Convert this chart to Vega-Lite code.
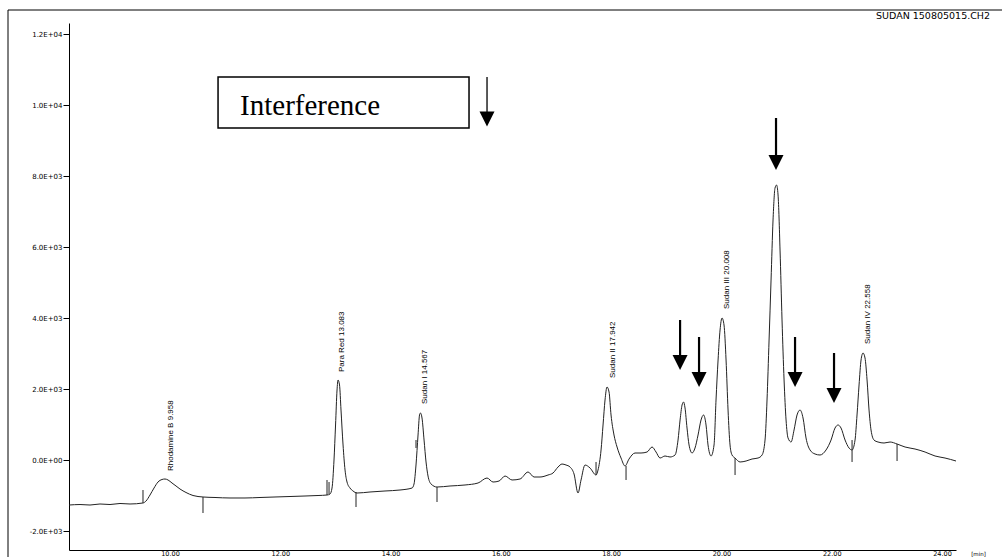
{
  "$schema": "https://vega.github.io/schema/vega-lite/v6.json",
  "width": 887,
  "height": 527,
  "autosize": {"type": "none"},
  "padding": {"left": 69, "top": 23, "right": 46, "bottom": 7},
  "background": "white",
  "config": {"view": {"stroke": null}},
  "datasets": {
    "trace": [
      {"t": 8.168, "v": -1268}, {"t": 8.368, "v": -1254}, {"t": 8.549, "v": -1268}, {"t": 8.730, "v": -1239},
      {"t": 8.912, "v": -1254}, {"t": 9.093, "v": -1225}, {"t": 9.275, "v": -1239}, {"t": 9.510, "v": -1211},
      {"t": 9.565, "v": -1155}, {"t": 9.637, "v": -986}, {"t": 9.710, "v": -789}, {"t": 9.782, "v": -620},
      {"t": 9.855, "v": -549}, {"t": 9.909, "v": -535}, {"t": 9.964, "v": -563}, {"t": 10.036, "v": -648},
      {"t": 10.109, "v": -732}, {"t": 10.181, "v": -817}, {"t": 10.290, "v": -915}, {"t": 10.417, "v": -1000},
      {"t": 10.598, "v": -1042}, {"t": 10.816, "v": -1056}, {"t": 11.088, "v": -1070}, {"t": 11.360, "v": -1070},
      {"t": 11.632, "v": -1056}, {"t": 11.904, "v": -1042}, {"t": 12.176, "v": -1028}, {"t": 12.448, "v": -1014},
      {"t": 12.684, "v": -1000}, {"t": 12.847, "v": -986}, {"t": 12.902, "v": -958}, {"t": 12.938, "v": -789},
      {"t": 12.974, "v": 0}, {"t": 13.002, "v": 986}, {"t": 13.029, "v": 1972}, {"t": 13.047, "v": 2254},
      {"t": 13.074, "v": 2113}, {"t": 13.101, "v": 1408}, {"t": 13.138, "v": 423}, {"t": 13.174, "v": -282},
      {"t": 13.210, "v": -620}, {"t": 13.264, "v": -789}, {"t": 13.319, "v": -873}, {"t": 13.391, "v": -930},
      {"t": 13.627, "v": -901}, {"t": 13.899, "v": -873}, {"t": 14.171, "v": -845}, {"t": 14.389, "v": -789},
      {"t": 14.425, "v": -676}, {"t": 14.461, "v": -141}, {"t": 14.498, "v": 704}, {"t": 14.525, "v": 1268},
      {"t": 14.543, "v": 1324}, {"t": 14.570, "v": 1183}, {"t": 14.607, "v": 563}, {"t": 14.643, "v": -56},
      {"t": 14.679, "v": -451}, {"t": 14.734, "v": -676}, {"t": 14.842, "v": -761}, {"t": 15.078, "v": -732},
      {"t": 15.350, "v": -704}, {"t": 15.586, "v": -648}, {"t": 15.749, "v": -507}, {"t": 15.858, "v": -620},
      {"t": 15.967, "v": -592}, {"t": 16.076, "v": -451}, {"t": 16.203, "v": -563}, {"t": 16.348, "v": -535},
      {"t": 16.493, "v": -338}, {"t": 16.602, "v": -479}, {"t": 16.710, "v": -479}, {"t": 16.855, "v": -423},
      {"t": 16.946, "v": -366}, {"t": 17.037, "v": -197}, {"t": 17.109, "v": -113}, {"t": 17.182, "v": -141},
      {"t": 17.254, "v": -197}, {"t": 17.327, "v": -394}, {"t": 17.399, "v": -930}, {"t": 17.454, "v": -563},
      {"t": 17.526, "v": -141}, {"t": 17.617, "v": -225}, {"t": 17.726, "v": -423}, {"t": 17.762, "v": -282},
      {"t": 17.817, "v": 282}, {"t": 17.853, "v": 986}, {"t": 17.889, "v": 1690}, {"t": 17.925, "v": 2056},
      {"t": 17.962, "v": 1915}, {"t": 17.998, "v": 1268}, {"t": 18.052, "v": 704}, {"t": 18.107, "v": 366},
      {"t": 18.179, "v": 56}, {"t": 18.252, "v": -169}, {"t": 18.324, "v": 28}, {"t": 18.433, "v": 197},
      {"t": 18.542, "v": 197}, {"t": 18.651, "v": 225}, {"t": 18.742, "v": 366}, {"t": 18.814, "v": 225},
      {"t": 18.887, "v": 56}, {"t": 18.977, "v": 113}, {"t": 19.068, "v": 85}, {"t": 19.159, "v": 141},
      {"t": 19.213, "v": 563}, {"t": 19.250, "v": 1127}, {"t": 19.286, "v": 1549}, {"t": 19.313, "v": 1634},
      {"t": 19.340, "v": 1465}, {"t": 19.376, "v": 901}, {"t": 19.413, "v": 423}, {"t": 19.467, "v": 197},
      {"t": 19.521, "v": 338}, {"t": 19.576, "v": 704}, {"t": 19.630, "v": 1127}, {"t": 19.676, "v": 1268},
      {"t": 19.721, "v": 986}, {"t": 19.757, "v": 423}, {"t": 19.812, "v": 113}, {"t": 19.866, "v": 423},
      {"t": 19.902, "v": 1690}, {"t": 19.939, "v": 2817}, {"t": 19.975, "v": 3662}, {"t": 20.011, "v": 4000},
      {"t": 20.047, "v": 3803}, {"t": 20.084, "v": 2817}, {"t": 20.120, "v": 1408}, {"t": 20.156, "v": 423},
      {"t": 20.192, "v": 141}, {"t": 20.247, "v": 56}, {"t": 20.338, "v": -56}, {"t": 20.447, "v": -28},
      {"t": 20.555, "v": 28}, {"t": 20.664, "v": 56}, {"t": 20.737, "v": 141}, {"t": 20.791, "v": 563},
      {"t": 20.827, "v": 1690}, {"t": 20.864, "v": 3380}, {"t": 20.900, "v": 5070}, {"t": 20.936, "v": 6761},
      {"t": 20.972, "v": 7662}, {"t": 21.000, "v": 7746}, {"t": 21.027, "v": 7465}, {"t": 21.063, "v": 5915},
      {"t": 21.099, "v": 3944}, {"t": 21.136, "v": 2254}, {"t": 21.172, "v": 1127}, {"t": 21.208, "v": 620},
      {"t": 21.263, "v": 507}, {"t": 21.317, "v": 845}, {"t": 21.371, "v": 1268}, {"t": 21.426, "v": 1408},
      {"t": 21.480, "v": 1183}, {"t": 21.534, "v": 620}, {"t": 21.607, "v": 282}, {"t": 21.698, "v": 169},
      {"t": 21.788, "v": 141}, {"t": 21.897, "v": 282}, {"t": 21.988, "v": 563}, {"t": 22.060, "v": 901},
      {"t": 22.115, "v": 986}, {"t": 22.169, "v": 901}, {"t": 22.242, "v": 563}, {"t": 22.314, "v": 338},
      {"t": 22.369, "v": 282}, {"t": 22.423, "v": 563}, {"t": 22.459, "v": 1268}, {"t": 22.496, "v": 2113},
      {"t": 22.532, "v": 2817}, {"t": 22.568, "v": 3014}, {"t": 22.604, "v": 2873}, {"t": 22.641, "v": 2254},
      {"t": 22.677, "v": 1408}, {"t": 22.713, "v": 845}, {"t": 22.767, "v": 563}, {"t": 22.840, "v": 507},
      {"t": 22.949, "v": 479}, {"t": 23.058, "v": 507}, {"t": 23.185, "v": 451}, {"t": 23.330, "v": 366},
      {"t": 23.511, "v": 310}, {"t": 23.693, "v": 225}, {"t": 23.874, "v": 113}, {"t": 24.055, "v": 56},
      {"t": 24.254, "v": -28}
    ],
    "ticks": [
      {"t": 9.510, "v": -845, "v2": -1211},
      {"t": 10.598, "v": -1042, "v2": -1493},
      {"t": 12.847, "v": -563, "v2": -986},
      {"t": 12.884, "v": -620, "v2": -958},
      {"t": 13.373, "v": -901, "v2": -1324},
      {"t": 14.461, "v": 563, "v2": 338},
      {"t": 14.842, "v": -761, "v2": -1183},
      {"t": 17.726, "v": -56, "v2": -423},
      {"t": 18.270, "v": -169, "v2": -563},
      {"t": 20.247, "v": 56, "v2": -423},
      {"t": 22.369, "v": 563, "v2": -56},
      {"t": 23.185, "v": 451, "v2": -28}
    ],
    "peaks": [
      {"t": 10.02, "v": -310, "label": "Rhodamine B 9.958"},
      {"t": 13.119, "v": 2479, "label": "Para Red 13.083"},
      {"t": 14.625, "v": 1577, "label": "Sudan I 14.567"},
      {"t": 18.034, "v": 2310, "label": "Sudan II 17.942"},
      {"t": 20.101, "v": 4254, "label": "Sudan III 20.008"},
      {"t": 22.659, "v": 3268, "label": "Sudan IV 22.558"}
    ],
    "arrows": [
      {"t": 19.250, "v": 3944, "v2": 2746},
      {"t": 19.594, "v": 3465, "v2": 2268},
      {"t": 20.990, "v": 9634, "v2": 8380},
      {"t": 21.335, "v": 3465, "v2": 2268},
      {"t": 22.042, "v": 3014, "v2": 1817}
    ],
    "legendArrow": [
      {"t": 15.749, "v": 10789, "v2": 9606}
    ],
    "heads": [
      {"t": 19.250, "v": 2746},
      {"t": 19.594, "v": 2268},
      {"t": 20.990, "v": 8380},
      {"t": 21.335, "v": 2268},
      {"t": 22.042, "v": 1817},
      {"t": 15.749, "v": 9606}
    ],
    "box": [
      {"t": 10.871, "t2": 15.4225, "v": 10789, "v2": 9352}
    ],
    "boxText": [
      {"t": 11.27, "v": 9718, "label": "Interference"}
    ],
    "fileName": [
      {"t": 24.871, "v": 12422, "label": "SUDAN 150805015.CH2"}
    ],
    "frame": [
      {"t": 7.062, "t2": 25.2, "v": 12676, "v2": 12676},
      {"t": 7.062, "t2": 7.062, "v": 12676, "v2": -2850}
    ]
  },
  "encoding": {
    "x": {
      "field": "t",
      "type": "quantitative",
      "scale": {"domain": [8.168, 24.254], "nice": false, "zero": false},
      "axis": {
        "title": "[min]",
        "values": [10, 12, 14, 16, 18, 20, 22, 24],
        "format": ".2f",
        "grid": false,
        "tickSize": 0,
        "labelPadding": 0,
        "labelFont": "DejaVu Sans",
        "labelFontSize": 6.5,
        "labelColor": "black",
        "labelFlush": false,
        "labelOverlap": false,
        "domainColor": "black",
        "domainWidth": 1,
        "titleX": 909,
        "titleY": 1,
        "titleBaseline": "top",
        "titleAlign": "center",
        "titleFont": "DejaVu Sans",
        "titleFontSize": 5.5,
        "titleFontWeight": "normal",
        "titleColor": "black"
      }
    },
    "y": {
      "field": "v",
      "type": "quantitative",
      "scale": {"domain": [-2535, 12310], "nice": false, "zero": false},
      "axis": {
        "title": null,
        "values": [-2000, 0, 2000, 4000, 6000, 8000, 10000, 12000],
        "labelExpr": "datum.value == 0 ? '0.0E+00' : datum.value < 0 ? '-2.0E+03' : datum.value < 10000 ? format(datum.value / 1000, '.1f') + 'E+03' : format(datum.value / 10000, '.1f') + 'E+04'",
        "grid": false,
        "tickSize": 6,
        "tickColor": "black",
        "tickWidth": 1,
        "labelPadding": 1,
        "labelFont": "DejaVu Sans",
        "labelFontSize": 7,
        "labelColor": "black",
        "labelFlush": false,
        "labelOverlap": false,
        "domainColor": "black",
        "domainWidth": 1
      }
    }
  },
  "layer": [
    {
      "data": {"name": "frame"},
      "mark": {"type": "rule", "color": "black", "strokeWidth": 1},
      "encoding": {"x2": {"field": "t2"}, "y2": {"field": "v2"}}
    },
    {
      "data": {"name": "box"},
      "mark": {"type": "rect", "fill": "white", "stroke": "black", "strokeWidth": 1.5},
      "encoding": {"x2": {"field": "t2"}, "y2": {"field": "v2"}}
    },
    {
      "data": {"name": "boxText"},
      "mark": {"type": "text", "font": "Liberation Serif", "fontSize": 29, "align": "left", "baseline": "alphabetic", "color": "black"},
      "encoding": {"text": {"field": "label"}}
    },
    {
      "data": {"name": "fileName"},
      "mark": {"type": "text", "font": "DejaVu Sans", "fontSize": 9.5, "align": "right", "baseline": "alphabetic", "color": "black"},
      "encoding": {"text": {"field": "label"}}
    },
    {
      "data": {"name": "ticks"},
      "mark": {"type": "rule", "color": "#222222", "strokeWidth": 1},
      "encoding": {"y2": {"field": "v2"}}
    },
    {
      "data": {"name": "trace"},
      "mark": {"type": "line", "color": "#222222", "strokeWidth": 1, "interpolate": "monotone"},
      "encoding": {}
    },
    {
      "data": {"name": "peaks"},
      "mark": {"type": "text", "font": "Liberation Sans", "fontSize": 8, "angle": 270, "align": "left", "baseline": "middle", "color": "black"},
      "encoding": {"text": {"field": "label"}}
    },
    {
      "data": {"name": "arrows"},
      "mark": {"type": "rule", "color": "black", "strokeWidth": 2.2},
      "encoding": {"y2": {"field": "v2"}}
    },
    {
      "data": {"name": "legendArrow"},
      "mark": {"type": "rule", "color": "black", "strokeWidth": 1.3},
      "encoding": {"y2": {"field": "v2"}}
    },
    {
      "data": {"name": "heads"},
      "mark": {"type": "point", "shape": "M-1,-1L1,-1L0,1Z", "size": 225, "filled": true, "color": "black", "opacity": 1, "strokeWidth": 0},
      "encoding": {}
    }
  ]
}
